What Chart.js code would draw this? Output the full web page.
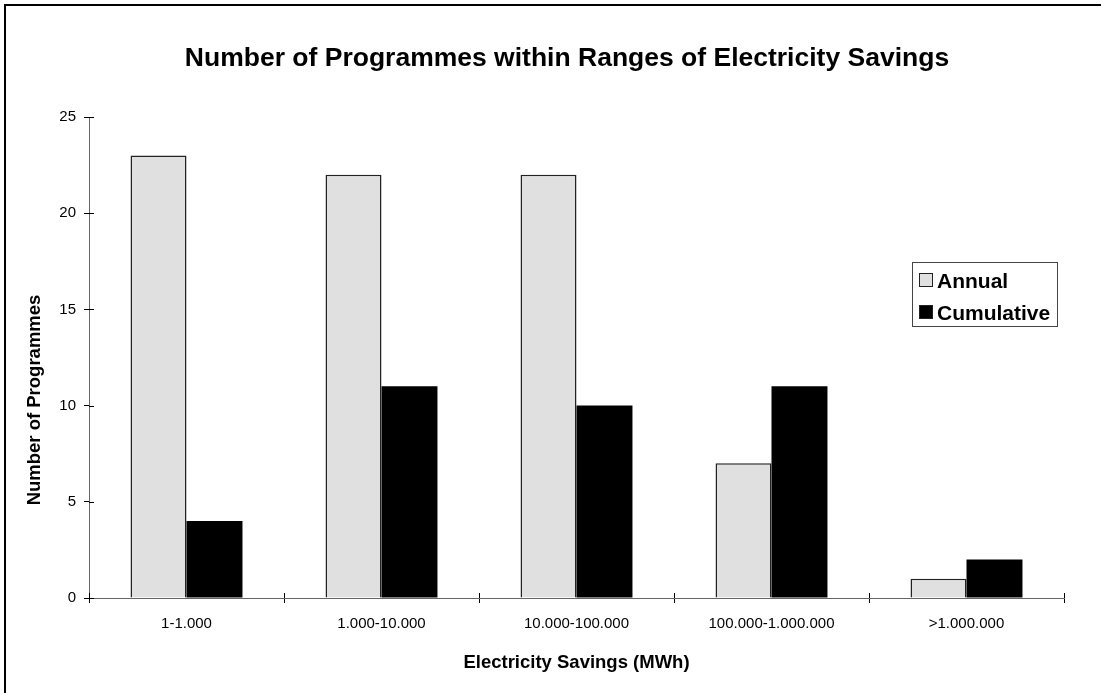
<!DOCTYPE html>
<html>
<head>
<meta charset="utf-8">
<title>Electricity savings programmes</title>
<script src="https://cdn.jsdelivr.net/npm/chart.js@4/dist/chart.umd.min.js"></script>
<style>
  html, body { margin: 0; padding: 0; background: #fff; }
  canvas { display: block; }
</style>
</head>
<body>
<canvas id="chart" width="1101" height="693"></canvas>
<script>
const categories = ['1-1.000', '1.000-10.000', '10.000-100.000', '100.000-1.000.000', '>1.000.000'];
const annual = [23, 22, 22, 7, 1];
const cumulative = [4, 11, 10, 11, 2];
const yTicks = [0, 5, 10, 15, 20, 25];

const FONT = '"Liberation Sans", Arial, Helvetica, sans-serif';

// frame, titles, in-plot legend and the inner half of the tick marks
const decorations = {
  id: 'decorations',
  beforeDraw(chart) {
    const ctx = chart.ctx;
    ctx.save();
    ctx.fillStyle = '#fff';
    ctx.fillRect(0, 0, chart.width, chart.height);
    ctx.strokeStyle = '#000';
    ctx.lineWidth = 2;
    ctx.beginPath();
    ctx.moveTo(5, chart.height);
    ctx.lineTo(5, 5);
    ctx.lineTo(chart.width, 5);
    ctx.stroke();

    ctx.fillStyle = '#000';
    ctx.textAlign = 'center';
    ctx.textBaseline = 'middle';
    ctx.font = 'bold 26.5px ' + FONT;
    ctx.fillText('Number of Programmes within Ranges of Electricity Savings', 567, 59);

    ctx.font = 'bold 18.5px ' + FONT;
    ctx.translate(35, 400);
    ctx.rotate(-Math.PI / 2);
    ctx.fillText('Number of Programmes', 0, 0);
    ctx.restore();
  },
  afterDraw(chart) {
    const ctx = chart.ctx;
    const x = chart.scales.x, y = chart.scales.y;
    ctx.save();
    ctx.strokeStyle = '#000';
    ctx.lineWidth = 1;
    ctx.beginPath();
    yTicks.forEach(v => {
      const py = Math.round(y.getPixelForValue(v)) + 0.5;
      ctx.moveTo(x.left, py);
      ctx.lineTo(x.left + 5, py);
    });
    for (let i = 0; i <= categories.length; i++) {
      const px = Math.round(x.getPixelForValue(i - 0.5)) + 0.5;
      ctx.moveTo(px, y.bottom);
      ctx.lineTo(px, y.bottom - 5);
    }
    ctx.stroke();

    // legend box
    const bx = 912, by = 262, bw = 145, bh = 64;
    ctx.fillStyle = '#fff';
    ctx.fillRect(bx, by, bw, bh);
    ctx.strokeStyle = '#444';
    ctx.strokeRect(bx + 0.5, by + 0.5, bw, bh);
    ctx.font = 'bold 21px ' + FONT;
    ctx.textAlign = 'left';
    ctx.textBaseline = 'alphabetic';
    chart.data.datasets.forEach((ds, i) => {
      const sy = 273 + i * 32;
      ctx.fillStyle = ds.backgroundColor;
      ctx.fillRect(919.5, sy + 0.5, 13, 13);
      ctx.strokeStyle = '#222';
      ctx.strokeRect(919.5, sy + 0.5, 13, 13);
      ctx.fillStyle = '#000';
      ctx.fillText(ds.label, 937, sy + 15);
    });
    ctx.restore();
  }
};

new Chart(document.getElementById('chart'), {
  type: 'bar',
  data: {
    labels: categories,
    datasets: [{
      label: 'Annual',
      data: annual,
      backgroundColor: '#e0e0e0',
      borderColor: '#222',
      borderWidth: 1.5
    }, {
      label: 'Cumulative',
      data: cumulative,
      backgroundColor: '#000',
      borderColor: '#000',
      borderWidth: 0
    }]
  },
  options: {
    responsive: false,
    animation: false,
    categoryPercentage: 0.574,
    barPercentage: 1.0,
    layout: { padding: { top: 117, right: 37, bottom: 0, left: 0 } },
    plugins: {
      legend: { display: false },
      title: { display: false },
      tooltip: { enabled: false }
    },
    scales: {
      x: {
        afterFit: s => { s.height = 95; },
        grid: { drawOnChartArea: false, drawTicks: true, tickLength: 5, color: '#000' },
        border: { color: '#666', width: 1 },
        ticks: { color: '#000', padding: 12, font: { family: FONT, size: 15 } },
        title: {
          display: true,
          text: 'Electricity Savings (MWh)',
          color: '#000',
          font: { family: FONT, size: 18.5, weight: 'bold' },
          padding: { top: 0, bottom: 19 }
        }
      },
      y: {
        min: 0,
        max: 25,
        afterFit: s => { s.width = 89; },
        afterBuildTicks: s => { s.ticks = yTicks.map(v => ({ value: v })); },
        grid: { drawOnChartArea: false, drawTicks: true, tickLength: 5, color: '#000' },
        border: { color: '#666', width: 1 },
        ticks: { color: '#000', padding: 8, font: { family: FONT, size: 15 } }
      }
    }
  },
  plugins: [decorations]
});
</script>
</body>
</html>
